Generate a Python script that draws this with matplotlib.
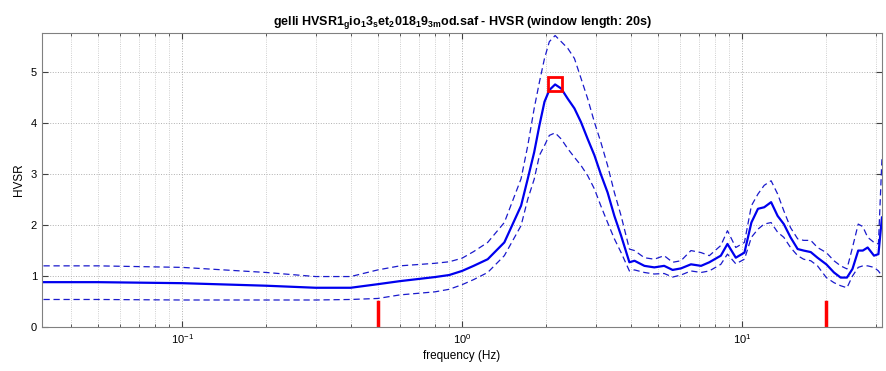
import numpy as np
import matplotlib.pyplot as plt
from matplotlib.ticker import LogLocator, NullFormatter

plt.rcParams['font.family'] = ['Liberation Sans', 'DejaVu Sans']
plt.rcParams['mathtext.fontset'] = 'custom'
plt.rcParams['mathtext.rm'] = 'Liberation Sans'
plt.rcParams['mathtext.bf'] = 'Liberation Sans:bold'

# HVSR curve: frequency (Hz), mean ratio and +/- one standard deviation
freq = [0.032, 0.05, 0.1, 0.2, 0.3, 0.4, 0.5, 0.6, 0.8, 0.9, 1.0, 1.1, 1.235,
        1.416, 1.625, 1.717, 1.81, 1.89, 1.97, 2.05, 2.15, 2.26, 2.385, 2.52,
        2.66, 2.81, 2.97, 3.13, 3.31, 3.50, 3.70, 3.96,
        4.13, 4.48, 4.86, 5.27, 5.65, 6.05, 6.57, 7.14, 7.64, 8.4, 8.87, 9.5,
        10.2, 10.8, 11.4, 12.0, 12.7, 13.4, 14.1, 14.9, 15.8, 16.6, 17.6, 18.6,
        20.0, 21.3, 22.5, 23.7, 24.8, 26.0, 27.0, 28.1, 29.6, 30.7, 31.6]
hv_mean = [0.88, 0.88, 0.86, 0.81, 0.77, 0.77, 0.84, 0.90, 0.98, 1.02, 1.10,
           1.20, 1.33, 1.66, 2.38, 2.91, 3.43, 3.96, 4.42, 4.65, 4.76, 4.68,
           4.48, 4.29, 4.02, 3.69, 3.37, 3.00, 2.64, 2.18, 1.79, 1.27,
           1.30, 1.20, 1.17, 1.20, 1.12, 1.15, 1.23, 1.20, 1.27,
           1.40, 1.63, 1.36, 1.46, 2.05, 2.32, 2.35, 2.45, 2.18, 2.02, 1.76,
           1.53, 1.50, 1.47, 1.36, 1.23, 1.07, 0.97, 0.97, 1.14, 1.50, 1.50,
           1.56, 1.40, 1.43, 2.15]
hv_upper = [1.20, 1.20, 1.17, 1.07, 0.99, 0.99, 1.12, 1.20, 1.25, 1.28, 1.35,
            1.48, 1.66, 2.05, 2.91, 3.56, 4.29, 4.81, 5.27, 5.60, 5.72, 5.60,
            5.47, 5.27, 4.88, 4.48, 4.02, 3.63, 3.17, 2.64, 2.18, 1.53,
            1.50, 1.36, 1.33, 1.40, 1.27, 1.30, 1.50, 1.46, 1.40,
            1.60, 1.89, 1.56, 1.66, 2.38, 2.61, 2.78, 2.87, 2.61, 2.28, 1.95,
            1.73, 1.70, 1.70, 1.56, 1.46, 1.30, 1.20, 1.14, 1.56, 2.02, 1.97,
            1.76, 1.66, 1.63, 3.30]
hv_lower = [0.54, 0.54, 0.53, 0.53, 0.53, 0.54, 0.56, 0.63, 0.69, 0.74, 0.83,
            0.93, 1.07, 1.40, 1.99, 2.51, 2.90, 3.37, 3.56, 3.76, 3.81, 3.69,
            3.50, 3.33, 3.17, 2.97, 2.71, 2.38, 2.05, 1.73, 1.46, 1.10,
            1.12, 1.07, 1.04, 1.05, 0.98, 1.02, 1.10, 1.07, 1.10,
            1.23, 1.43, 1.24, 1.33, 1.76, 1.92, 2.02, 2.05, 1.86, 1.76, 1.56,
            1.40, 1.33, 1.30, 1.20, 0.97, 0.87, 0.81, 0.77, 1.00, 1.17, 1.20,
            1.20, 1.17, 1.10, 1.00]

# analysis window limits (Hz)
f_limits = [0.5, 20.0]
limit_height = 0.5

fig = plt.figure(figsize=(8.87, 3.71), dpi=100)
ax = fig.add_axes([0.0474, 0.1186, 0.9470, 0.7925])

ax.plot(freq, hv_upper, '--', color='#1a1acc', lw=0.9, dashes=(5, 3))
ax.plot(freq, hv_lower, '--', color='#1a1acc', lw=0.9, dashes=(5, 3))
ax.plot(freq, hv_mean, '-', color='#0000ee', lw=1.6)

ipk = int(np.argmax(hv_mean))
ax.plot(freq[ipk], hv_mean[ipk], 's', ms=10, mfc='none', mec='red', mew=2)

for f in f_limits:
    ax.plot([f, f], [0, limit_height], color='red', lw=2.5)

ax.set_xscale('log')
ax.set_xlim(10 ** -1.5, 10 ** 1.5)
ax.set_ylim(0, 5.77)
ax.set_yticks([0, 1, 2, 3, 4, 5])
ax.xaxis.set_major_locator(LogLocator(base=10, numticks=10))
ax.xaxis.set_minor_locator(LogLocator(base=10, subs=np.arange(2, 10), numticks=10))
ax.xaxis.set_minor_formatter(NullFormatter())

ax.grid(True, which='major', ls=':', color='#b0b0b0', lw=0.7)
ax.grid(True, which='minor', axis='x', ls=':', color='#c0c0c0', lw=0.6)
ax.tick_params(which='both', direction='in', top=True, right=True,
               labelsize=8, color='#404040')
ax.tick_params(which='major', length=4)
ax.tick_params(which='minor', length=2.5)
for s in ax.spines.values():
    s.set_color('#808080')
    s.set_linewidth(0.8)

ax.set_xlabel('frequency (Hz)', fontsize=8.5, labelpad=3)
ax.set_ylabel('HVSR', fontsize=8.5, labelpad=4)
ax.set_title(r'gelli HVSR1$_\mathbf{g}$io$_\mathbf{1}$3$_\mathbf{s}$et$_\mathbf{2}$'
             r'018$_\mathbf{1}$9$_\mathbf{3m}$od.saf - HVSR (window length: 20s)',
             fontsize=9, fontweight='bold', pad=6)

fig.savefig('out.png', dpi=100)
